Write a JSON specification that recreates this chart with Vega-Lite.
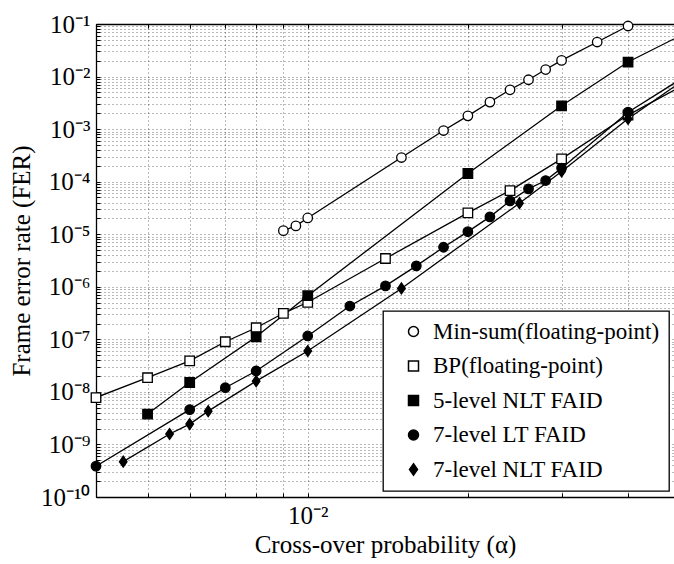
{
  "$schema": "https://vega.github.io/schema/vega-lite/v6.json",
  "autosize": "none",
  "width": 578,
  "height": 473,
  "padding": {"left": 96, "top": 24, "right": 0, "bottom": 67},
  "background": "white",
  "data": {
    "values": [
      {"series": "Min-sum(floating-point)", "alpha": 0.009, "fer": 1.17e-5},
      {"series": "Min-sum(floating-point)", "alpha": 0.0095, "fer": 1.44e-5},
      {"series": "Min-sum(floating-point)", "alpha": 0.01, "fer": 2.04e-5},
      {"series": "Min-sum(floating-point)", "alpha": 0.015, "fer": 2.88e-4},
      {"series": "Min-sum(floating-point)", "alpha": 0.018, "fer": 9.4e-4},
      {"series": "Min-sum(floating-point)", "alpha": 0.02, "fer": 1.79e-3},
      {"series": "Min-sum(floating-point)", "alpha": 0.022, "fer": 3.27e-3},
      {"series": "Min-sum(floating-point)", "alpha": 0.024, "fer": 5.6e-3},
      {"series": "Min-sum(floating-point)", "alpha": 0.026, "fer": 8.7e-3},
      {"series": "Min-sum(floating-point)", "alpha": 0.028, "fer": 1.36e-2},
      {"series": "Min-sum(floating-point)", "alpha": 0.03, "fer": 2.03e-2},
      {"series": "Min-sum(floating-point)", "alpha": 0.035, "fer": 4.54e-2},
      {"series": "Min-sum(floating-point)", "alpha": 0.04, "fer": 9.16e-2},
      {"series": "BP(floating-point)", "alpha": 0.004, "fer": 7.8e-9},
      {"series": "BP(floating-point)", "alpha": 0.005, "fer": 1.86e-8},
      {"series": "BP(floating-point)", "alpha": 0.006, "fer": 3.9e-8},
      {"series": "BP(floating-point)", "alpha": 0.007, "fer": 9.0e-8},
      {"series": "BP(floating-point)", "alpha": 0.008, "fer": 1.66e-7},
      {"series": "BP(floating-point)", "alpha": 0.009, "fer": 3.13e-7},
      {"series": "BP(floating-point)", "alpha": 0.01, "fer": 5.07e-7},
      {"series": "BP(floating-point)", "alpha": 0.014, "fer": 3.45e-6},
      {"series": "BP(floating-point)", "alpha": 0.02, "fer": 2.55e-5},
      {"series": "BP(floating-point)", "alpha": 0.024, "fer": 6.76e-5},
      {"series": "BP(floating-point)", "alpha": 0.03, "fer": 2.72e-4},
      {"series": "BP(floating-point)", "alpha": 0.04, "fer": 1.85e-3},
      {"series": "BP(floating-point)", "alpha": 0.05, "fer": 6.3e-3},
      {"series": "5-level NLT FAID", "alpha": 0.005, "fer": 3.78e-9},
      {"series": "5-level NLT FAID", "alpha": 0.006, "fer": 1.51e-8},
      {"series": "5-level NLT FAID", "alpha": 0.008, "fer": 1.12e-7},
      {"series": "5-level NLT FAID", "alpha": 0.01, "fer": 6.76e-7},
      {"series": "5-level NLT FAID", "alpha": 0.02, "fer": 1.43e-4},
      {"series": "5-level NLT FAID", "alpha": 0.03, "fer": 2.78e-3},
      {"series": "5-level NLT FAID", "alpha": 0.04, "fer": 1.89e-2},
      {"series": "5-level NLT FAID", "alpha": 0.05, "fer": 5.9e-2},
      {"series": "7-level LT FAID", "alpha": 0.004, "fer": 3.86e-10},
      {"series": "7-level LT FAID", "alpha": 0.006, "fer": 4.6e-9},
      {"series": "7-level LT FAID", "alpha": 0.007, "fer": 1.2e-8},
      {"series": "7-level LT FAID", "alpha": 0.008, "fer": 2.5e-8},
      {"series": "7-level LT FAID", "alpha": 0.01, "fer": 1.16e-7},
      {"series": "7-level LT FAID", "alpha": 0.012, "fer": 4.3e-7},
      {"series": "7-level LT FAID", "alpha": 0.014, "fer": 1.04e-6},
      {"series": "7-level LT FAID", "alpha": 0.016, "fer": 2.5e-6},
      {"series": "7-level LT FAID", "alpha": 0.018, "fer": 5.65e-6},
      {"series": "7-level LT FAID", "alpha": 0.02, "fer": 1.12e-5},
      {"series": "7-level LT FAID", "alpha": 0.022, "fer": 2.14e-5},
      {"series": "7-level LT FAID", "alpha": 0.024, "fer": 4.3e-5},
      {"series": "7-level LT FAID", "alpha": 0.026, "fer": 7.3e-5},
      {"series": "7-level LT FAID", "alpha": 0.028, "fer": 1.05e-4},
      {"series": "7-level LT FAID", "alpha": 0.03, "fer": 1.81e-4},
      {"series": "7-level LT FAID", "alpha": 0.04, "fer": 2.1e-3},
      {"series": "7-level LT FAID", "alpha": 0.05, "fer": 8.65e-3},
      {"series": "7-level NLT FAID", "alpha": 0.0045, "fer": 4.7e-10},
      {"series": "7-level NLT FAID", "alpha": 0.0055, "fer": 1.58e-9},
      {"series": "7-level NLT FAID", "alpha": 0.006, "fer": 2.44e-9},
      {"series": "7-level NLT FAID", "alpha": 0.0065, "fer": 4.3e-9},
      {"series": "7-level NLT FAID", "alpha": 0.008, "fer": 1.6e-8},
      {"series": "7-level NLT FAID", "alpha": 0.01, "fer": 6.0e-8},
      {"series": "7-level NLT FAID", "alpha": 0.015, "fer": 9.3e-7},
      {"series": "7-level NLT FAID", "alpha": 0.025, "fer": 3.9e-5},
      {"series": "7-level NLT FAID", "alpha": 0.03, "fer": 1.56e-4},
      {"series": "7-level NLT FAID", "alpha": 0.04, "fer": 1.57e-3},
      {"series": "7-level NLT FAID", "alpha": 0.05, "fer": 7.6e-3}
    ]
  },
  "layer": [
    {
      "mark": {"type": "line", "color": "black", "strokeWidth": 1.3, "clip": true},
      "encoding": {
        "x": {
          "field": "alpha",
          "type": "quantitative",
          "title": "Cross-over probability (α)",
          "scale": {"type": "log", "domain": [0.004, 0.0488], "nice": false, "zero": false},
          "axis": {
            "orient": "bottom",
            "values": [0.004, 0.005, 0.006, 0.007, 0.008, 0.009, 0.01, 0.02, 0.03, 0.04],
            "labelExpr": "abs(log(datum.value)/LN10 - round(log(datum.value)/LN10)) < 0.001 ? '10' + ['⁰','⁻¹','⁻²','⁻³'][-round(log(datum.value)/LN10)] : ''",
            "grid": true,
            "labelPadding": 10,
            "titlePadding": 4,
            "labelBaseline": "top"
          }
        },
        "y": {
          "field": "fer",
          "type": "quantitative",
          "title": "Frame error rate (FER)",
          "scale": {"type": "log", "domain": [1e-10, 0.1], "nice": false, "zero": false},
          "axis": {
            "orient": "left",
            "values": [1e-10, 2e-10, 3e-10, 4e-10, 5e-10, 6e-10, 7e-10, 8e-10, 9e-10,
                       1e-9, 2e-9, 3e-9, 4e-9, 5e-9, 6e-9, 7e-9, 8e-9, 9e-9,
                       1e-8, 2e-8, 3e-8, 4e-8, 5e-8, 6e-8, 7e-8, 8e-8, 9e-8,
                       1e-7, 2e-7, 3e-7, 4e-7, 5e-7, 6e-7, 7e-7, 8e-7, 9e-7,
                       1e-6, 2e-6, 3e-6, 4e-6, 5e-6, 6e-6, 7e-6, 8e-6, 9e-6,
                       1e-5, 2e-5, 3e-5, 4e-5, 5e-5, 6e-5, 7e-5, 8e-5, 9e-5,
                       1e-4, 2e-4, 3e-4, 4e-4, 5e-4, 6e-4, 7e-4, 8e-4, 9e-4,
                       1e-3, 2e-3, 3e-3, 4e-3, 5e-3, 6e-3, 7e-3, 8e-3, 9e-3,
                       1e-2, 2e-2, 3e-2, 4e-2, 5e-2, 6e-2, 7e-2, 8e-2, 9e-2, 1e-1],
            "labelExpr": "abs(log(datum.value)/LN10 - round(log(datum.value)/LN10)) < 0.001 ? '10' + ['⁰','⁻¹','⁻²','⁻³','⁻⁴','⁻⁵','⁻⁶','⁻⁷','⁻⁸','⁻⁹','⁻¹⁰'][-round(log(datum.value)/LN10)] : ''",
            "grid": true,
            "labelPadding": 10,
            "titlePadding": 6
          }
        },
        "detail": {"field": "series", "type": "nominal"}
      }
    },
    {
      "mark": {"type": "point", "filled": true, "stroke": "black", "strokeWidth": 1.3, "size": 90, "opacity": 1, "clip": false},
      "encoding": {
        "x": {
          "field": "alpha",
          "type": "quantitative",
          "axis": {"orient": "top", "labels": false, "grid": false, "title": null,
                   "values": [0.004, 0.005, 0.006, 0.007, 0.008, 0.009, 0.01, 0.02, 0.03, 0.04]}
        },
        "y": {"field": "fer", "type": "quantitative"},
        "shape": {
          "field": "series",
          "type": "nominal",
          "scale": {
            "domain": ["Min-sum(floating-point)", "BP(floating-point)", "5-level NLT FAID", "7-level LT FAID", "7-level NLT FAID"],
            "range": ["circle", "square", "square", "circle", "M0,-1.15L0.8,0L0,1.15L-0.8,0Z"]
          },
          "legend": {
            "orient": "none",
            "legendX": 287,
            "legendY": 287,
            "title": null,
            "symbolSize": 100,
            "symbolOffset": 10,
            "labelOffset": 8,
            "padding": 9,
            "rowPadding": 10.5,
            "labelLimit": 400,
            "encode": {
              "symbols": {
                "fill": {"value": {"expr": "datum.value === 'Min-sum(floating-point)' || datum.value === 'BP(floating-point)' ? 'white' : 'black'"}},
                "stroke": {"value": "black"},
                "strokeWidth": {"value": 1.3},
                "size": {"value": 100},
                "opacity": {"value": 1}
              }
            }
          }
        },
        "fill": {
          "field": "series",
          "type": "nominal",
          "scale": {
            "domain": ["Min-sum(floating-point)", "BP(floating-point)", "5-level NLT FAID", "7-level LT FAID", "7-level NLT FAID"],
            "range": ["white", "white", "black", "black", "black"]
          },
          "legend": null
        }
      }
    }
  ],
  "resolve": {"axis": {"x": "independent"}},
  "config": {
    "view": {"stroke": null},
    "font": "Liberation Serif",
    "axis": {
      "domainColor": "black",
      "domainWidth": 1.3,
      "tickColor": "black",
      "tickSize": -4,
      "tickWidth": 1,
      "gridColor": "black",
      "gridOpacity": 0.55,
      "gridDash": [1, 3],
      "gridWidth": 1,
      "labelFont": "Liberation Serif",
      "labelFontSize": 25,
      "labelColor": "black",
      "titleFont": "Liberation Serif",
      "titleFontSize": 25,
      "titleFontWeight": "normal",
      "titleColor": "black",
      "labelOverlap": false,
      "labelFlush": false
    },
    "legend": {
      "labelFont": "Liberation Serif",
      "labelFontSize": 23,
      "labelColor": "black",
      "strokeColor": "black",
      "strokeWidth": 1.3,
      "fillColor": "white",
      "cornerRadius": 0
    }
  }
}
